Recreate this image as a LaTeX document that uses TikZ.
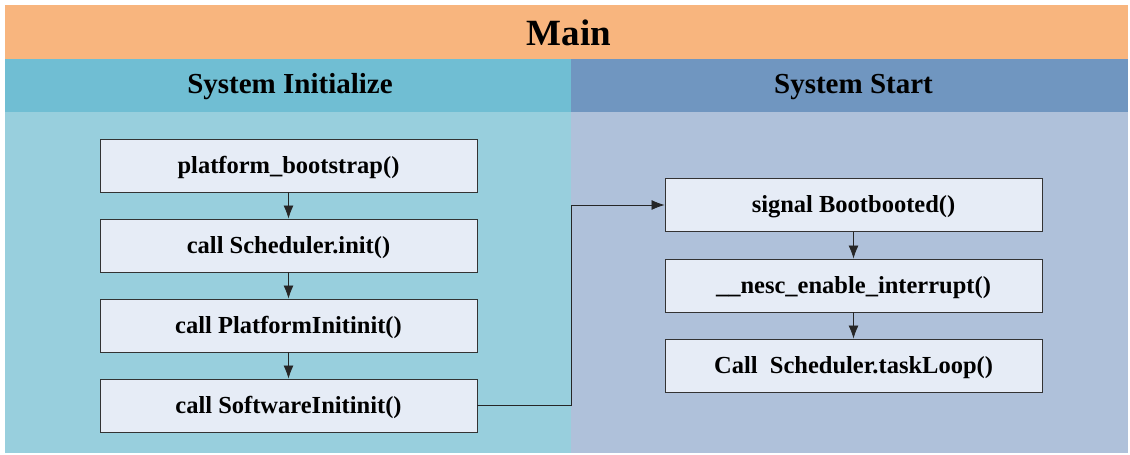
\documentclass[tikz,border=0pt]{standalone}
\usepackage{fontspec}
\setmainfont{Liberation Serif}
\usetikzlibrary{arrows.meta}

\definecolor{mainorange}{RGB}{248,181,126}
\definecolor{inithead}{RGB}{112,190,211}
\definecolor{initbody}{RGB}{152,207,221}
\definecolor{starthead}{RGB}{112,150,192}
\definecolor{startbody}{RGB}{175,193,218}
\definecolor{boxfill}{RGB}{230,236,246}

\begin{document}
\begin{tikzpicture}[x=1pt, y=-1pt,
    stepbox/.style={draw=black!80, line width=0.9pt, fill=boxfill, inner sep=0pt,
      minimum width=377pt, minimum height=53pt, text depth=0pt, text height=15pt,
      font=\fontsize{24.5}{27}\selectfont\bfseries},
    flow/.style={draw=black!85, line width=0.8pt, -{Latex[length=13pt,width=10pt]}}]
    \useasboundingbox (0,0) rectangle (1130,455);
    % lanes
    \fill[mainorange] (5,5) rectangle (1128,59);
    \node[font=\fontsize{37}{40}\selectfont\bfseries] (title) at (569,33) {Main};
    \fill[inithead] (5,59) rectangle (571,112);
    \fill[initbody] (5,112) rectangle (571,453);
    \node[font=\fontsize{29}{32}\selectfont\bfseries] (inithd) at (290,87) {System Initialize};
    \fill[starthead] (571,59) rectangle (1128,112);
    \fill[startbody] (571,112) rectangle (1128,453);
    \node[font=\fontsize{29}{32}\selectfont\bfseries] (starthd) at (853.5,87) {System Start};
    % steps
    \node[stepbox] (boot) at (288.5,165.5) {platform\_bootstrap()};
    \node[stepbox] (sched) at (288.5,245.5) {call Scheduler.init()};
    \node[stepbox] (plat) at (288.5,325.5) {call PlatformInitinit()};
    \node[stepbox] (soft) at (288.5,405.5) {call SoftwareInitinit()};
    \node[stepbox] (booted) at (853.5,205) {signal Bootbooted()};
    \node[stepbox] (intr) at (853.5,285.5) {\_\_nesc\_enable\_interrupt()};
    \node[stepbox] (loop) at (853.5,365.5) {Call\ \ Scheduler.taskLoop()};
    % arrows
    \draw[flow] (boot) -- (sched);
    \draw[flow] (sched) -- (plat);
    \draw[flow] (plat) -- (soft);
    \draw[flow] (soft.east) -- ++(94,0) |- (booted.west);
    \draw[flow] (booted) -- (intr);
    \draw[flow] (intr) -- (loop);
\end{tikzpicture}
\end{document}
